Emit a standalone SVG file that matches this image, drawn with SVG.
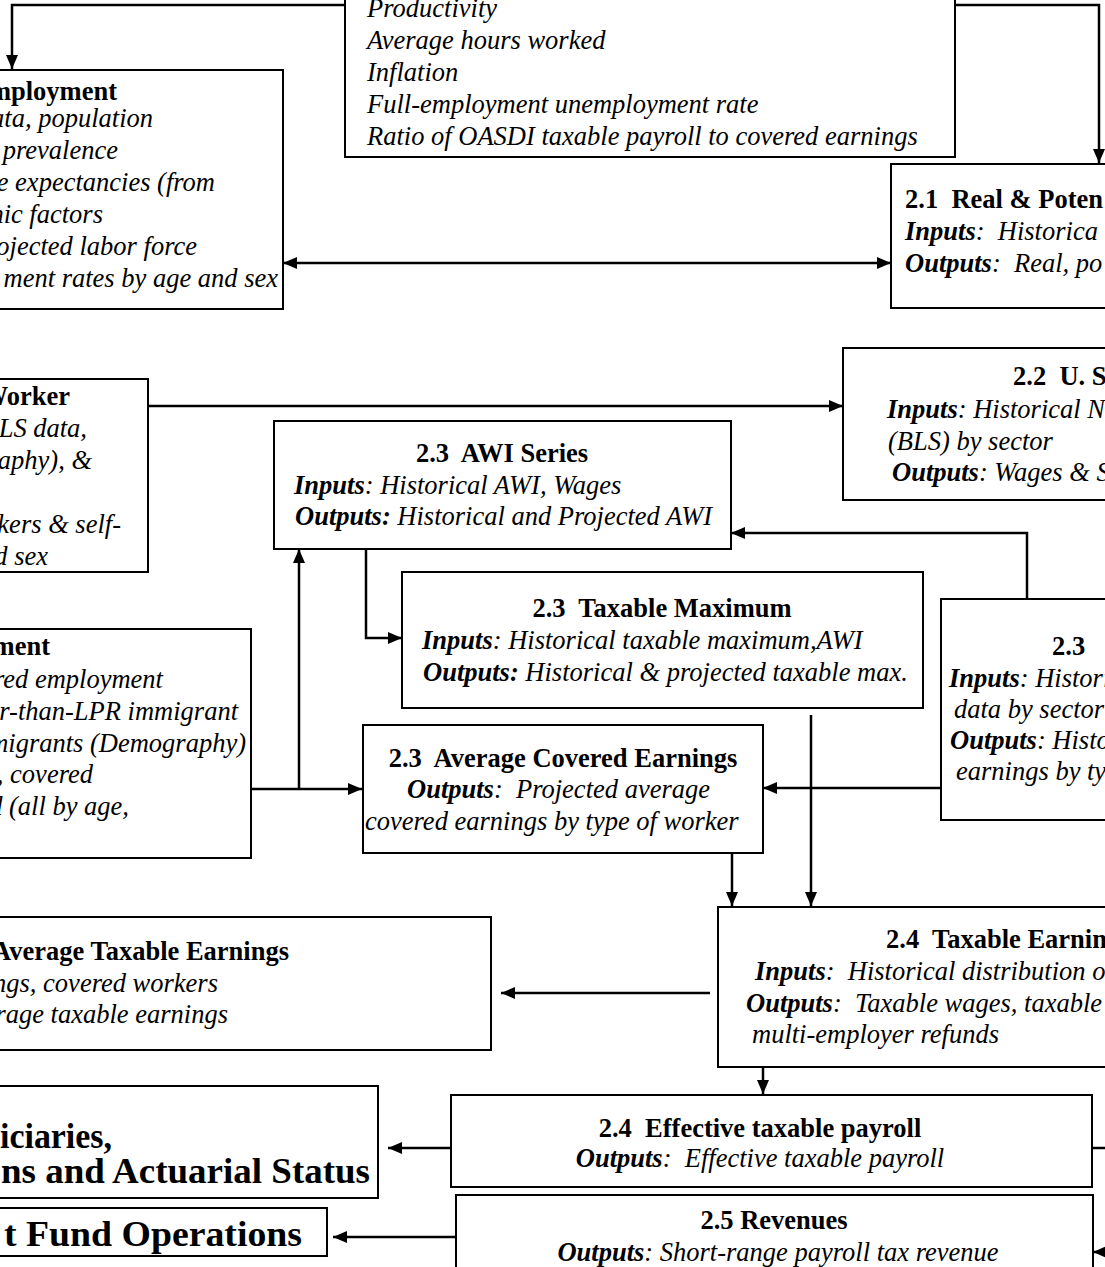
<svg xmlns="http://www.w3.org/2000/svg" width="1105" height="1267" viewBox="0 0 1105 1267">
<style>
text{font-family:"Liberation Serif","Times New Roman",serif;font-size:26.5px;fill:#000;white-space:pre}
.i{font-style:italic}
.b{font-weight:bold}
.bi{font-weight:bold;font-style:italic}
.big{font-weight:bold;font-size:35px}
.box{fill:#fff;stroke:#000;stroke-width:2}
.con{fill:none;stroke:#000;stroke-width:2.5}
</style>
<defs>
<marker id="ah" markerUnits="userSpaceOnUse" markerWidth="14" markerHeight="12" viewBox="0 0 14 12" refX="14" refY="6" orient="auto-start-reverse">
<path d="M0,0 L14,6 L0,12 z" fill="#000"/>
</marker>
</defs>
<rect width="1105" height="1267" fill="#fff"/>

<g id="connectors">
<path class="con" d="M345,5 H12 V69" marker-end="url(#ah)"/>
<path class="con" d="M955,5 H1099 V163" marker-end="url(#ah)"/>
<path class="con" d="M283,263 H891" marker-start="url(#ah)" marker-end="url(#ah)"/>
<path class="con" d="M148,406 H843" marker-end="url(#ah)"/>
<path class="con" d="M1027,599 V533 H731" marker-end="url(#ah)"/>
<path class="con" d="M366,549 V638 H402" marker-end="url(#ah)"/>
<path class="con" d="M251,789 H362" marker-end="url(#ah)"/>
<path class="con" d="M299,789 V549" marker-end="url(#ah)"/>
<path class="con" d="M941,788 H763" marker-end="url(#ah)"/>
<path class="con" d="M811,715 V906" marker-end="url(#ah)"/>
<path class="con" d="M732,853 V906" marker-end="url(#ah)"/>
<path class="con" d="M710,993 H501" marker-end="url(#ah)"/>
<path class="con" d="M763,1067 V1094" marker-end="url(#ah)"/>
<path class="con" d="M451,1148 H388" marker-end="url(#ah)"/>
<path class="con" d="M1092,1148 H1110"/>
<path class="con" d="M456,1237 H333" marker-end="url(#ah)"/>
<path class="con" d="M1110,1252 H1093" marker-end="url(#ah)"/>
</g>

<g id="assumptions">
<rect class="box" x="345" y="-10" width="610" height="167"/>
<text class="i" x="367" y="17">Productivity</text>
<text class="i" x="367" y="49">Average hours worked</text>
<text class="i" x="367" y="81">Inflation</text>
<text class="i" x="367" y="113">Full-employment unemployment rate</text>
<text class="i" x="367" y="145">Ratio of OASDI taxable payroll to covered earnings</text>
</g>

<g id="employment">
<rect class="box" x="-10" y="70" width="293" height="239"/>
<text class="b" x="117" y="100" text-anchor="end">mployment</text>
<text class="i" x="153" y="127" text-anchor="end">ata, population</text>
<text class="i" x="118" y="159" text-anchor="end">prevalence</text>
<text class="i" x="215" y="191" text-anchor="end">e expectancies (from</text>
<text class="i" x="103" y="223" text-anchor="end">nic factors</text>
<text class="i" x="197" y="255" text-anchor="end">ojected labor force</text>
<text class="i" x="278" y="287" text-anchor="end">ment rates by age and sex</text>
</g>

<g id="real-potential">
<rect class="box" x="891" y="164" width="224" height="144"/>
<text class="b" x="905" y="208">2.1  Real &amp; Poten</text>
<text class="i" x="905" y="240"><tspan class="bi">Inputs</tspan>:  Historica</text>
<text class="i" x="905" y="272"><tspan class="bi">Outputs</tspan>:  Real, po</text>
</g>

<g id="worker">
<rect class="box" x="-10" y="379" width="158" height="193"/>
<text class="b" x="70" y="405" text-anchor="end">Worker</text>
<text class="i" x="87" y="437" text-anchor="end">LS data,</text>
<text class="i" x="92" y="469" text-anchor="end">raphy), &amp;</text>
<text class="i" x="121" y="533" text-anchor="end">kers &amp; self-</text>
<text class="i" x="48" y="565" text-anchor="end">d sex</text>
</g>

<g id="us-economy">
<rect class="box" x="843" y="348" width="272" height="152"/>
<text class="b" x="1013" y="385">2.2  U. S</text>
<text class="i" x="887" y="418"><tspan class="bi">Inputs</tspan>: Historical N</text>
<text class="i" x="888" y="450">(BLS) by sector</text>
<text class="i" x="892" y="481"><tspan class="bi">Outputs</tspan>: Wages &amp; S</text>
</g>

<g id="awi-series">
<rect class="box" x="274" y="421" width="457" height="128"/>
<text class="b" x="502" y="462" text-anchor="middle">2.3  AWI Series</text>
<text class="i" x="294" y="494"><tspan class="bi">Inputs</tspan>: Historical AWI, Wages</text>
<text class="i" x="295" y="525"><tspan class="bi">Outputs:</tspan> Historical and Projected AWI</text>
</g>

<g id="taxable-maximum">
<rect class="box" x="402" y="572" width="521" height="136"/>
<text class="b" x="662" y="617" text-anchor="middle">2.3  Taxable Maximum</text>
<text class="i" x="422" y="649"><tspan class="bi">Inputs</tspan>: Historical taxable maximum,AWI</text>
<text class="i" x="423" y="681"><tspan class="bi">Outputs:</tspan> Historical &amp; projected taxable max.</text>
</g>

<g id="historical-earnings">
<rect class="box" x="941" y="599" width="174" height="221"/>
<text class="b" x="1052" y="655">2.3</text>
<text class="i" x="949" y="687"><tspan class="bi">Inputs</tspan>: Histori</text>
<text class="i" x="954" y="718">data by sector</text>
<text class="i" x="950" y="749"><tspan class="bi">Outputs</tspan>: Histo</text>
<text class="i" x="956" y="780">earnings by ty</text>
</g>

<g id="covered-employment">
<rect class="box" x="-10" y="629" width="261" height="229"/>
<text class="b" x="50" y="655" text-anchor="end">ment</text>
<text class="i" x="163" y="688" text-anchor="end">red employment</text>
<text class="i" x="238" y="720" text-anchor="end">r-than-LPR immigrant</text>
<text class="i" x="246" y="752" text-anchor="end">migrants (Demography)</text>
<text class="i" x="93" y="783" text-anchor="end">, covered</text>
<text class="i" x="129" y="815" text-anchor="end">d (all by age,</text>
</g>

<g id="average-covered-earnings">
<rect class="box" x="363" y="725" width="400" height="128"/>
<text class="b" x="563" y="767" text-anchor="middle">2.3  Average Covered Earnings</text>
<text class="i" x="407" y="798"><tspan class="bi">Outputs</tspan>:  Projected average</text>
<text class="i" x="365" y="830">covered earnings by type of worker</text>
</g>

<g id="taxable-earnings">
<rect class="box" x="718" y="907" width="397" height="160"/>
<text class="b" x="886" y="948">2.4  Taxable Earnin</text>
<text class="i" x="755" y="980"><tspan class="bi">Inputs</tspan>:  Historical distribution o</text>
<text class="i" x="746" y="1012"><tspan class="bi">Outputs</tspan>:  Taxable wages, taxable</text>
<text class="i" x="752" y="1043">multi-employer refunds</text>
</g>

<g id="average-taxable-earnings">
<rect class="box" x="-10" y="917" width="501" height="133"/>
<text class="b" x="289" y="960" text-anchor="end">Average Taxable Earnings</text>
<text class="i" x="218" y="992" text-anchor="end">ngs, covered workers</text>
<text class="i" x="228" y="1023" text-anchor="end">rage taxable earnings</text>
</g>

<g id="beneficiaries">
<rect class="box" x="-10" y="1086" width="388" height="112"/>
<text class="big" x="0" y="1148" textLength="112" lengthAdjust="spacingAndGlyphs">iciaries,</text>
<text class="big" x="1" y="1183" textLength="369" lengthAdjust="spacingAndGlyphs">ns and Actuarial Status</text>
</g>

<g id="trust-fund">
<rect class="box" x="-10" y="1208" width="337" height="48"/>
<text class="big" x="4" y="1246" textLength="298" lengthAdjust="spacingAndGlyphs">t Fund Operations</text>
</g>

<g id="effective-taxable-payroll">
<rect class="box" x="451" y="1095" width="641" height="92"/>
<text class="b" x="760" y="1137" text-anchor="middle">2.4  Effective taxable payroll</text>
<text class="i" x="760" y="1167" text-anchor="middle"><tspan class="bi">Outputs</tspan>:  Effective taxable payroll</text>
</g>

<g id="revenues">
<rect class="box" x="456" y="1195" width="637" height="90"/>
<text class="b" x="774" y="1229" text-anchor="middle">2.5 Revenues</text>
<text class="i" x="778" y="1261" text-anchor="middle"><tspan class="bi">Outputs</tspan>: Short-range payroll tax revenue</text>
</g>
</svg>
